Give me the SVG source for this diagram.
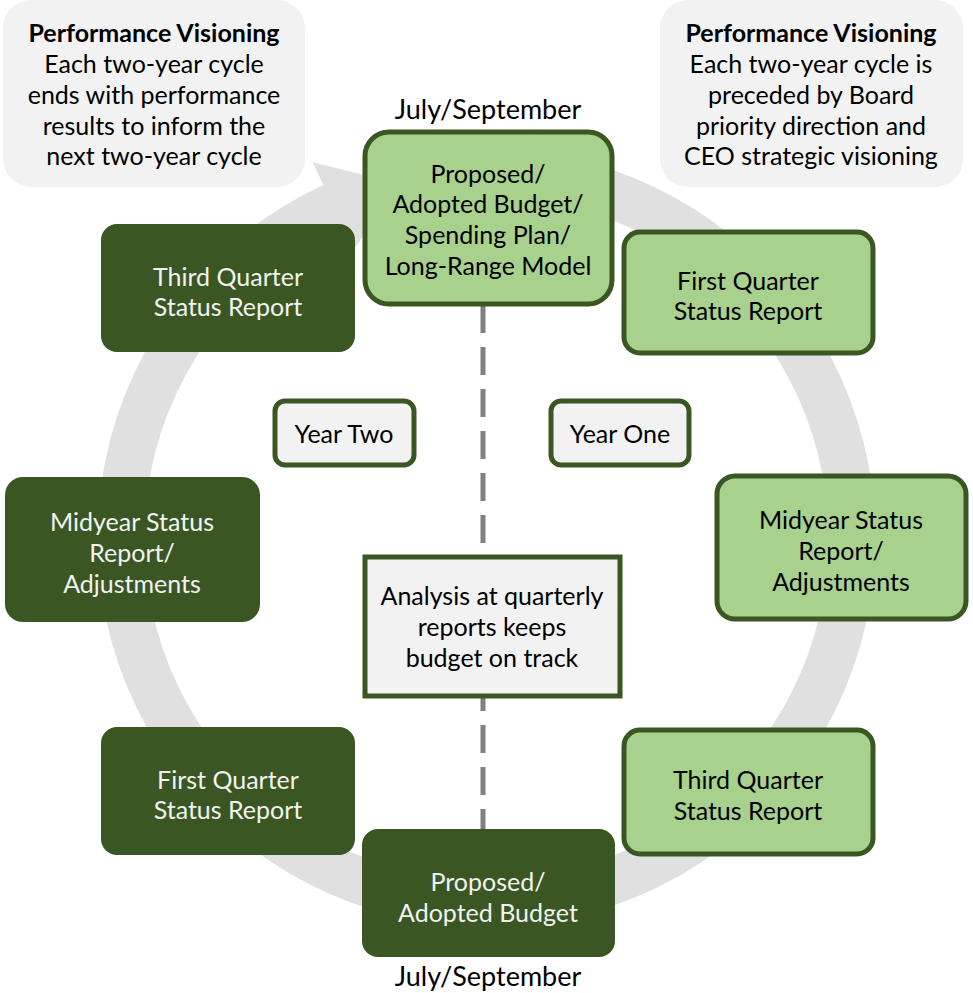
<svg xmlns="http://www.w3.org/2000/svg" width="973" height="993" viewBox="0 0 973 993">
<style>
text{font-family:Lato,"Liberation Sans",sans-serif;font-size:25px;text-anchor:middle}
.dk rect{fill:#3a5723}
.dk text{fill:#f2f2f2}
.lt rect{fill:#a9d18e;stroke:#3a5723;stroke-width:5}
.lt text,.gy text,.co text,.lbl{fill:#000}
.gy rect{fill:#f2f2f2;stroke:#3a5723;stroke-width:5}
.co rect{fill:#f2f2f2}
.b{font-weight:bold}
.big{font-size:27px}
</style>
<g id="cycle-arrow">
<path d="M567.4,157.5 A389,389 0 1 1 323.3,184.9 L312.8,162.2 L398.1,183.4 L353.5,250.2 L343.0,227.5 A342,342 0 1 0 557.6,203.5 Z" fill="#e0e0e0"/>
</g>
<g id="connectors">
<line x1="483" y1="305" x2="483" y2="829" stroke="#808080" stroke-width="5" stroke-dasharray="28 14"/>
</g>
<g id="callout-left" class="co">
<rect x="3" y="0" width="302" height="187" rx="28"/>
<text x="154" y="42" class="b">Performance Visioning</text>
<text x="154" y="73">Each two-year cycle</text>
<text x="154" y="104">ends with performance</text>
<text x="154" y="135">results to inform the</text>
<text x="154" y="165">next two-year cycle</text>
</g>
<g id="callout-right" class="co">
<rect x="660" y="0" width="303" height="187" rx="28"/>
<text x="811" y="42" class="b">Performance Visioning</text>
<text x="811" y="73">Each two-year cycle is</text>
<text x="811" y="104">preceded by Board</text>
<text x="811" y="135">priority direction and</text>
<text x="811" y="165">CEO strategic visioning</text>
</g>
<g id="label-top"><text class="lbl big" x="488" y="119">July/September</text></g>
<g id="y1-budget" class="lt">
<rect x="365" y="132" width="247" height="172" rx="24"/>
<text x="488" y="183">Proposed/</text>
<text x="488" y="213">Adopted Budget/</text>
<text x="488" y="244">Spending Plan/</text>
<text x="488" y="275">Long-Range Model</text>
</g>
<g id="y1-q1" class="lt">
<rect x="624" y="232" width="249" height="121" rx="16"/>
<text x="748" y="290">First Quarter</text>
<text x="748" y="320">Status Report</text>
</g>
<g id="y2-q3" class="dk">
<rect x="101" y="224" width="254" height="128" rx="16"/>
<text x="228" y="286">Third Quarter</text>
<text x="228" y="316">Status Report</text>
</g>
<g id="year-two" class="gy">
<rect x="275" y="401" width="139" height="64" rx="10"/>
<text x="344" y="443">Year Two</text>
</g>
<g id="year-one" class="gy">
<rect x="551" y="401" width="138" height="64" rx="10"/>
<text x="620" y="443">Year One</text>
</g>
<g id="y2-mid" class="dk">
<rect x="5" y="477" width="255" height="145" rx="18"/>
<text x="132" y="531">Midyear Status</text>
<text x="132" y="562">Report/</text>
<text x="132" y="593">Adjustments</text>
</g>
<g id="y1-mid" class="lt">
<rect x="717" y="476" width="249" height="143" rx="18"/>
<text x="841" y="529">Midyear Status</text>
<text x="841" y="560">Report/</text>
<text x="841" y="591">Adjustments</text>
</g>
<g id="analysis" class="gy">
<rect x="365" y="557" width="255" height="139"/>
<text x="492" y="605">Analysis at quarterly</text>
<text x="492" y="636">reports keeps</text>
<text x="492" y="667">budget on track</text>
</g>
<g id="y2-q1" class="dk">
<rect x="101" y="727" width="254" height="128" rx="16"/>
<text x="228" y="789">First Quarter</text>
<text x="228" y="819">Status Report</text>
</g>
<g id="y1-q3" class="lt">
<rect x="624" y="730" width="249" height="124" rx="16"/>
<text x="748" y="789">Third Quarter</text>
<text x="748" y="820">Status Report</text>
</g>
<g id="y2-budget" class="dk">
<rect x="362" y="829" width="253" height="128" rx="16"/>
<text x="488" y="891">Proposed/</text>
<text x="488" y="922">Adopted Budget</text>
</g>
<g id="label-bottom"><text class="lbl big" x="488" y="986">July/September</text></g>
</svg>
